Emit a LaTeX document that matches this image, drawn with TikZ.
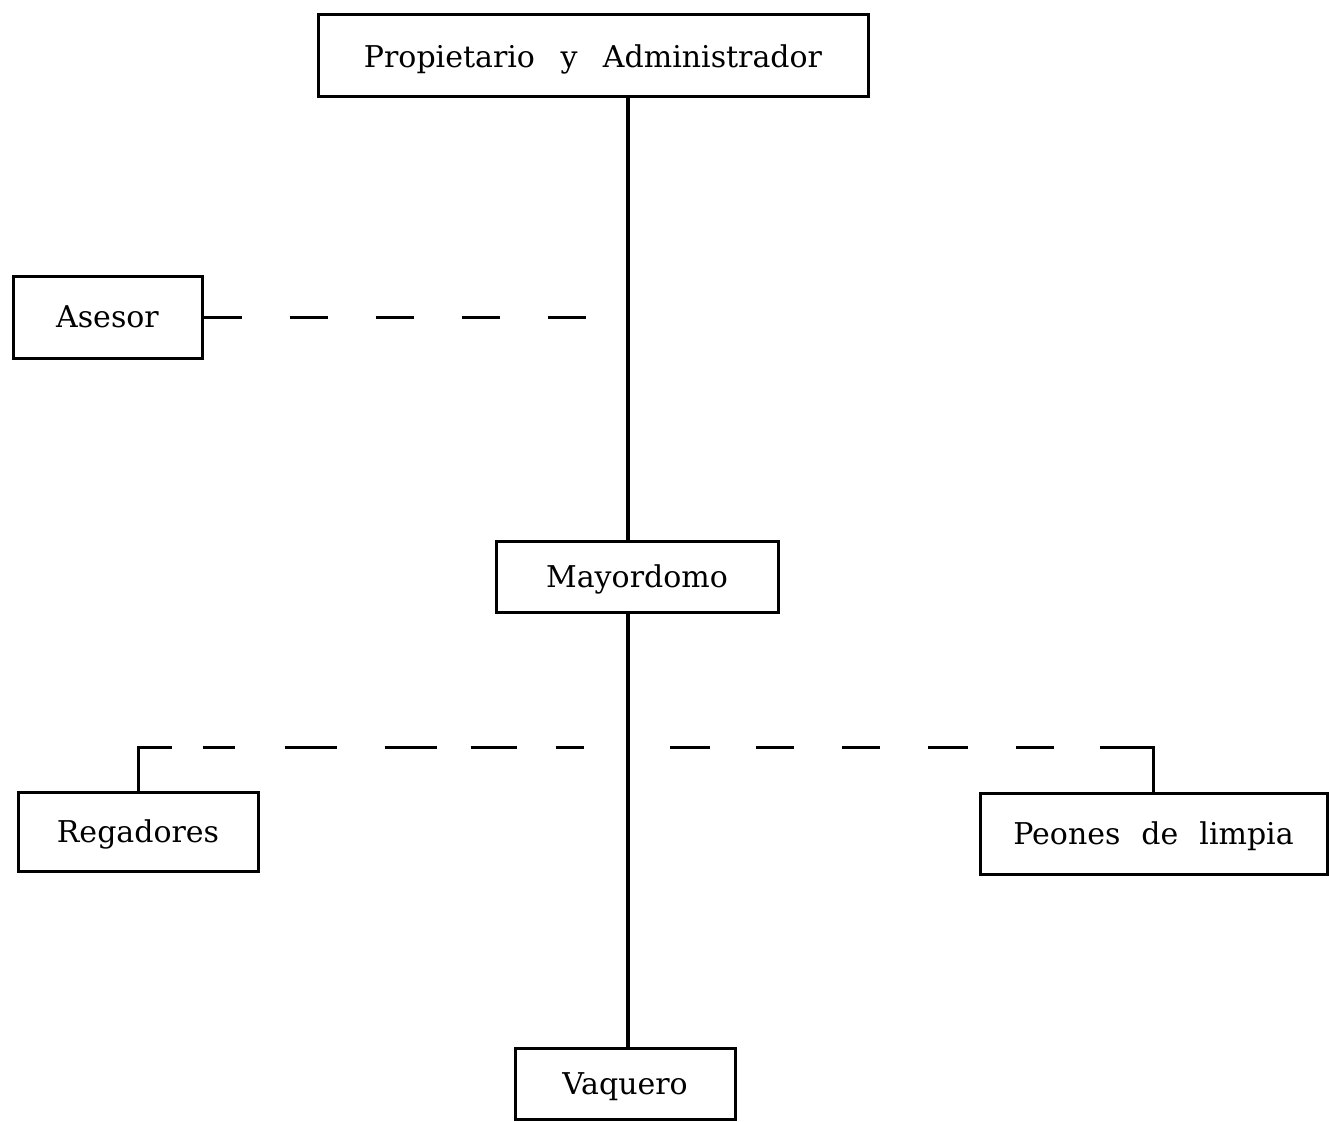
\documentclass[tikz,border=0pt]{standalone}
\usepackage{fontspec}
\setmainfont{DejaVu Serif}
\newcommand{\wgap}{\hspace{0.85em}}
\newcommand{\wgapb}{\hspace{0.7em}}
\begin{document}
\begin{tikzpicture}[x=1pt,y=-1pt,
  box/.style={draw=black, line width=3pt, inner sep=0pt, align=center,
    text depth=0pt, font=\fontsize{30}{36}\selectfont},
  mainline/.style={line width=4.5pt},
  dashline/.style={line width=3pt},
]
\useasboundingbox (0,0) rectangle (1329,1121);
\fill[white] (0,0) rectangle (1329,1121);
\node[box, minimum width=550pt, minimum height=82pt] (prop) at (593,56) {Propietario\wgap y\wgap Administrador};
\node[box, minimum width=189pt, minimum height=82pt] (ases) at (107.5,317) {Asesor};
\node[box, minimum width=282pt, minimum height=71pt] (may) at (637,576.5) {Mayordomo};
\node[box, minimum width=240pt, minimum height=79pt] (reg) at (138,831.5) {Regadores};
\node[box, minimum width=347pt, minimum height=81pt] (peon) at (1153.5,833.5) {Peones\wgapb de\wgapb limpia};
\node[box, minimum width=220pt, minimum height=71pt] (vaq) at (625,1083.5) {Vaquero};
\coordinate (spine) at (628,0);
\coordinate (aE) at (588,317);
\coordinate (lE) at (584,747);
\coordinate (rE) at (670,747);
\draw[mainline] (prop.south -| spine) -- (may.north -| spine);
\draw[mainline] (may.south -| spine) -- (vaq.north -| spine);
\draw[dashline, dash pattern=on 38pt off 48pt] (ases.east) -- (aE);
\draw[dashline, dash pattern=on 77pt off 31pt on 32pt off 50pt on 52pt off 48pt on 52pt off 34pt on 46pt off 39pt on 60pt] (reg.north) |- (lE);
\draw[dashline, dash pattern=on 98pt off 46pt on 38pt off 48pt on 40pt off 48pt on 38pt off 48pt on 38pt off 46pt on 50pt] (peon.north) |- (rE);
\end{tikzpicture}
\end{document}
